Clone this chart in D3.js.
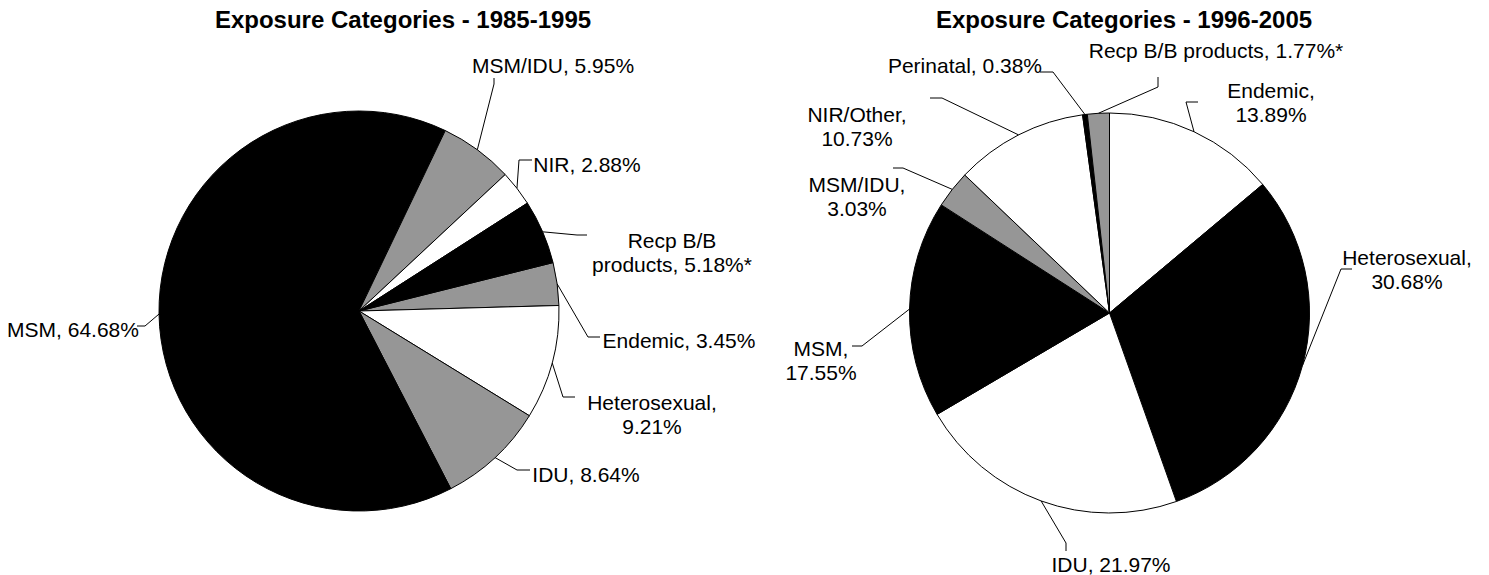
<!DOCTYPE html>
<html>
<head>
<meta charset="utf-8">
<script src="https://cdn.jsdelivr.net/npm/d3@7/dist/d3.min.js"></script>
<style>
  body { margin: 0; background: #fff; }
  svg text { font-family: Arial, "Liberation Sans", sans-serif; fill: #000; }
</style>
</head>
<body>
<div id="charts"></div>
<script>
// 1985-1995
var categories1985 = ["Endemic", "Heterosexual", "IDU", "MSM", "MSM/IDU", "NIR", "Recp B/B products"];
var values1985 = [3.45, 9.21, 8.64, 64.68, 5.95, 2.88, 5.18];
var fills1985 = ["#969696", "#ffffff", "#969696", "#000000", "#969696", "#ffffff", "#000000"];

// 1996-2005
var categories1996 = ["Endemic", "Heterosexual", "IDU", "MSM", "MSM/IDU", "NIR/Other", "Perinatal", "Recp B/B products"];
var values1996 = [13.89, 30.68, 21.97, 17.55, 3.03, 10.73, 0.38, 1.77];
var fills1996 = ["#ffffff", "#000000", "#ffffff", "#000000", "#969696", "#ffffff", "#000000", "#969696"];

var titles = ["Exposure Categories - 1985-1995", "Exposure Categories - 1996-2005"];
var starred = "Recp B/B products";

var width = 1489,
    height = 575,
    radius = 200,
    lineHeight = 24;

// label placement: centre x, first baseline y, words on line 1, leader elbow + end
var layout1985 = [
  { x: 679, y: 348, brk: 0, elbow: [588, 337], end: [600, 337] },
  { x: 652, y: 410, brk: 1, elbow: [563, 397], end: [575, 397] },
  { x: 586, y: 482, brk: 0, elbow: [517, 470], end: [530, 470] },
  { x: 73,  y: 337, brk: 0, elbow: [145, 326], end: [137, 326] },
  { x: 553, y: 73,  brk: 0, elbow: [494, 84],  end: [494, 78] },
  { x: 587, y: 172, brk: 0, elbow: [519, 160], end: [532, 160] },
  { x: 672, y: 248, brk: 2, elbow: [577, 235], end: [587, 235] }
];

var layout1996 = [
  { x: 1271, y: 98,  brk: 1, elbow: [1186, 102], end: [1198, 102] },
  { x: 1407, y: 265, brk: 1, elbow: [1341, 269], end: [1352, 269] },
  { x: 1111, y: 572, brk: 0, elbow: [1066, 543], end: [1066, 551] },
  { x: 821,  y: 356, brk: 1, elbow: [862, 346],  end: [852, 346] },
  { x: 857,  y: 192, brk: 1, elbow: [903, 168],  end: [893, 168] },
  { x: 857,  y: 122, brk: 1, elbow: [942, 98],   end: [930, 98] },
  { x: 965,  y: 73,  brk: 0, elbow: [1053, 72],  end: [1040, 72] },
  { x: 1216, y: 58,  brk: 0, elbow: [1158, 87],  end: [1158, 77] }
];

var svg = d3.select("#charts").append("svg")
    .attr("width", width)
    .attr("height", height);

var fmt = d3.format(".2f");

drawPie({ cx: 359, cy: 311, start: 76, title: titles[0], titleX: 403,
  categories: categories1985, values: values1985, fills: fills1985, layout: layout1985 });

drawPie({ cx: 1109.5, cy: 313, start: 0, title: titles[1], titleX: 1124,
  categories: categories1996, values: values1996, fills: fills1996, layout: layout1996 });

function drawPie(opt) {
  var a0 = opt.start * Math.PI / 180;

  var pie = d3.pie()
      .sort(null)
      .startAngle(a0)
      .endAngle(a0 + 2 * Math.PI)
      .value(d => d);

  var arc = d3.arc()
      .innerRadius(0)
      .outerRadius(radius);

  var arcs = pie(opt.values);

  svg.append("text")
      .attr("x", opt.titleX)
      .attr("y", 28)
      .attr("text-anchor", "middle")
      .attr("font-size", "24px")
      .attr("font-weight", "bold")
      .text(opt.title);

  var g = svg.append("g")
      .attr("transform", "translate(" + opt.cx + "," + opt.cy + ")");

  g.selectAll("path.slice")
      .data(arcs)
    .enter().append("path")
      .attr("class", "slice")
      .attr("d", arc)
      .attr("fill", (d, i) => opt.fills[i])
      .attr("stroke", "#000")
      .attr("stroke-width", 1)
      .attr("stroke-linejoin", "round");

  // leader lines from the rim (mid angle) to the label
  svg.append("g").selectAll("path")
      .data(arcs)
    .enter().append("path")
      .attr("fill", "none")
      .attr("stroke", "#000")
      .attr("stroke-width", 1)
      .attr("d", (d, i) => {
        var m = (d.startAngle + d.endAngle) / 2,
            L = opt.layout[i];
        var p = [opt.cx + radius * Math.sin(m), opt.cy - radius * Math.cos(m)];
        return d3.line()([p, L.elbow, L.end]);
      });

  var labels = svg.append("g").selectAll("text")
      .data(arcs)
    .enter().append("text")
      .attr("text-anchor", "middle")
      .attr("font-size", "21px");

  labels.each(function(d, i) {
    var L = opt.layout[i],
        cat = opt.categories[i];
    var txt = cat + ", " + fmt(d.data) + "%" + (cat == starred ? "*" : "");
    var words = txt.split(" ");
    var lines = L.brk ? [words.slice(0, L.brk).join(" "), words.slice(L.brk).join(" ")] : [txt];
    d3.select(this).selectAll("tspan")
        .data(lines)
      .enter().append("tspan")
        .attr("x", L.x)
        .attr("y", (t, j) => L.y + j * lineHeight)
        .text(t => t);
  });
}
</script>
</body>
</html>
